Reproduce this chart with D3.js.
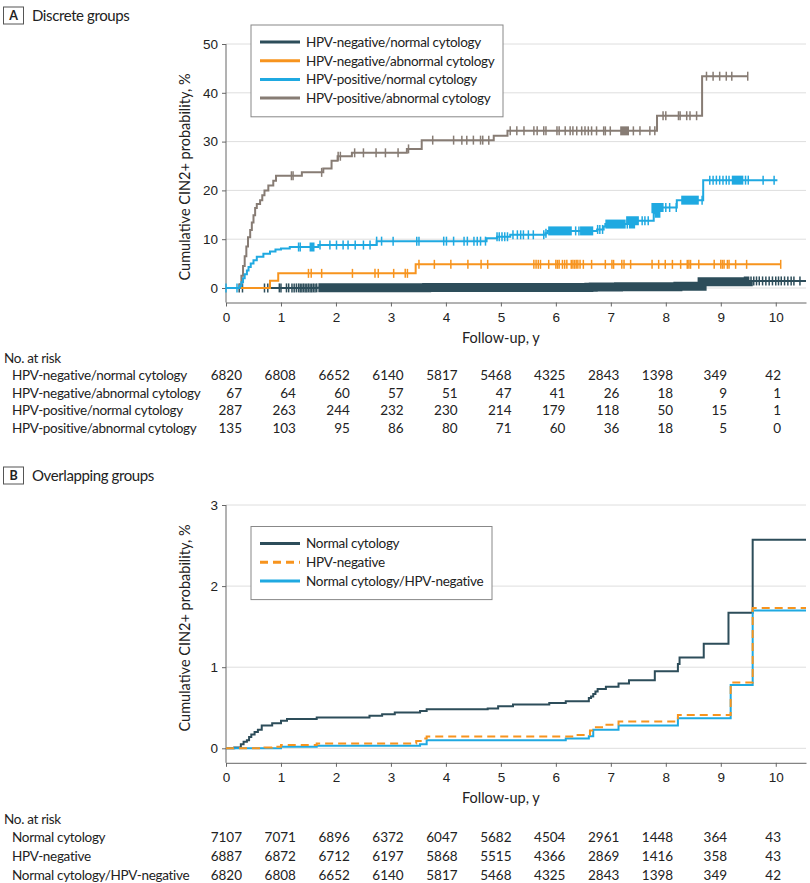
<!DOCTYPE html>
<html>
<head>
<meta charset="utf-8">
<script src="https://cdn.jsdelivr.net/npm/d3@7"></script>
<style>
  body { margin: 0; background: #fff; }
  svg { font-family: Lato, "Liberation Sans", sans-serif; }
</style>
</head>
<body>
<div class="chart"></div>
<script>
// ---------- data ----------
const xTicks = [0, 1, 2, 3, 4, 5, 6, 7, 8, 9, 10];
const yTicksA = [0, 10, 20, 30, 40, 50];
const yTicksB = [0, 1, 2, 3];

const groupsA = ['HPV-negative/normal cytology', 'HPV-negative/abnormal cytology', 'HPV-positive/normal cytology', 'HPV-positive/abnormal cytology'];
const groupsB = ['Normal cytology', 'HPV-negative', 'Normal cytology/HPV-negative'];

// Kaplan-Meier steps [year, cumulative %]
const stepsNegNormal = [[0,0],[0.9,0.02],[1.65,0.03],[3.53,0.05],[3.65,0.1],[6.18,0.12],[6.6,0.15],[6.68,0.23],[7.14,0.28],[8.22,0.37],[8.66,1.3],[9.5,1.45]];
const stepsNegAbn = [[0,0],[0.8,1.5],[0.95,3.0],[3.45,4.85]];
const stepsPosNormal = [[0,0],[0.25,0.4],[0.28,1.2],[0.31,2.0],[0.34,2.8],[0.38,3.6],[0.41,4.3],[0.45,5.0],[0.5,5.7],[0.56,6.4],[0.68,7.0],[0.8,7.5],[0.9,7.9],[1.0,8.1],[1.16,8.4],[1.68,8.8],[2.74,9.6],[4.74,10.2],[4.93,10.5],[5.17,10.9],[5.81,11.2],[5.85,11.7],[6.75,12.0],[6.87,12.6],[6.9,13.1],[7.36,13.8],[7.78,15.3],[7.82,16.5],[8.2,18.0],[8.68,22.1]];
const stepsPosAbn = [[0,0],[0.25,0.7],[0.28,2.5],[0.31,4.5],[0.34,6.5],[0.37,8.5],[0.4,10.4],[0.44,11.9],[0.47,13.4],[0.5,14.9],[0.53,16.4],[0.56,17.2],[0.62,18.0],[0.66,19.0],[0.7,20.0],[0.77,21.0],[0.86,22.0],[0.91,23.0],[1.38,23.7],[1.77,24.5],[1.92,26.1],[2.03,27.0],[2.29,27.7],[3.29,28.5],[3.56,30.3],[4.87,31.2],[5.12,32.2],[7.84,35.3],[8.66,43.4]];
const endsA = [10.55, 10.09, 10.03, 9.49];

// censoring times (single marks) and dense censoring ranges
const censorNegNormal = [0.24,0.3,0.7,0.76,0.97,1.0,1.1,1.14,1.2,1.24,1.28,1.32,1.35,1.38,1.41,1.44,1.47,1.5,1.53,1.56,1.59,1.62,1.65,9.55,9.6,9.65,9.7,9.76,9.82,9.88,9.94,10.0,10.05,10.1,10.16,10.22,10.28,10.33,10.44];
const denseNegNormal = [[1.68, 9.52]];
const censorNegAbn = [1.5,1.55,1.74,2.3,2.71,2.77,3.05,3.26,3.3,3.51,3.79,4.09,4.4,4.64,4.76,5.6,5.64,5.68,5.72,5.87,6.0,6.03,6.06,6.12,6.16,6.2,6.28,6.31,6.34,6.37,6.4,6.44,6.5,6.65,6.9,7.02,7.05,7.2,7.24,7.36,7.75,7.87,7.99,8.12,8.27,8.39,8.42,8.45,8.6,8.88,9.0,9.03,9.06,9.12,9.15,9.27,9.47,10.09];
const denseNegAbn = [];
const censorPosNormal = [0,0.2,1.32,1.35,1.71,1.89,2.01,2.13,2.22,2.35,2.5,2.62,2.74,2.83,3.04,3.47,3.51,3.96,4.01,4.14,4.33,4.39,4.51,4.57,4.63,4.72,4.93,4.97,5.02,5.07,5.12,5.22,5.3,5.36,5.41,5.5,5.59,5.78,5.82,6.36,6.42,6.76,6.8,6.85,7.3,7.57,7.62,7.68,8.0,8.07,8.19,8.66,8.8,8.86,8.92,8.98,9.04,9.1,9.15,9.45,9.5,9.77,9.97];
const densePosNormal = [[1.52,1.61],[5.86,6.29],[6.44,6.68],[6.9,7.27],[7.33,7.51],[7.8,7.96],[8.28,8.6],[9.2,9.41]];
const censorPosAbn = [1.19,1.22,1.74,2.04,2.08,2.34,2.5,2.73,2.9,3.13,3.32,3.76,4.14,4.29,4.38,4.5,4.63,4.67,4.78,5.17,5.29,5.42,5.6,5.66,5.78,5.82,6.02,6.06,6.17,6.26,6.31,6.38,6.47,6.53,6.59,6.65,6.74,6.87,6.9,6.99,7.41,7.53,7.71,7.8,7.95,8.0,8.23,8.26,8.38,8.44,8.56,8.74,8.86,8.98,9.1,9.2,9.49];
const densePosAbn = [[7.17,7.33]];

const stepsNormal = [[0,0],[0.15,0.01],[0.27,0.05],[0.32,0.08],[0.38,0.1],[0.42,0.14],[0.46,0.17],[0.52,0.2],[0.58,0.23],[0.65,0.28],[0.84,0.31],[1.0,0.34],[1.11,0.36],[1.65,0.38],[2.61,0.4],[2.84,0.42],[3.07,0.44],[3.53,0.46],[3.65,0.48],[4.76,0.49],[4.95,0.52],[5.22,0.54],[5.88,0.56],[6.18,0.58],[6.6,0.62],[6.64,0.64],[6.68,0.67],[6.72,0.7],[6.76,0.73],[6.91,0.76],[7.14,0.8],[7.33,0.84],[7.8,0.95],[8.22,1.04],[8.25,1.12],[8.69,1.29],[9.14,1.67],[9.58,2.57]];
const stepsHpvNeg = [[0,0],[0.7,0.01],[0.84,0.02],[1.0,0.04],[1.65,0.06],[3.46,0.09],[3.57,0.12],[3.65,0.145],[6.37,0.165],[6.62,0.22],[6.68,0.26],[6.84,0.29],[7.14,0.33],[8.22,0.41],[9.18,0.81],[9.58,1.73]];
const stepsBoth = [[0,0],[1.0,0.02],[1.65,0.03],[3.53,0.05],[3.65,0.1],[6.18,0.12],[6.6,0.15],[6.68,0.23],[7.14,0.28],[8.22,0.37],[9.18,0.78],[9.58,1.7]];
const endsB = [10.55, 10.55, 10.55];

const riskA = [
  [6820, 6808, 6652, 6140, 5817, 5468, 4325, 2843, 1398, 349, 42],
  [67, 64, 60, 57, 51, 47, 41, 26, 18, 9, 1],
  [287, 263, 244, 232, 230, 214, 179, 118, 50, 15, 1],
  [135, 103, 95, 86, 80, 71, 60, 36, 18, 5, 0]
];
const riskB = [
  [7107, 7071, 6896, 6372, 6047, 5682, 4504, 2961, 1448, 364, 43],
  [6887, 6872, 6712, 6197, 5868, 5515, 4366, 2869, 1416, 358, 43],
  [6820, 6808, 6652, 6140, 5817, 5468, 4325, 2843, 1398, 349, 42]
];

// ---------- styles ----------
const cDark = '#2d4d5a', cOrange = '#f7941e', cBlue = '#1fa9e1', cGrey = '#877c74';
const fontSize = 13.5;
const tight = '-0.3px';

const svg = d3.select('.chart').append('svg')
  .attr('width', 810).attr('height', 883);

const x = d3.scaleLinear().domain([0, 10.55]).range([226, 806]);
const col = d3.scaleLinear().domain([0, 10]).range([242, 781]);

function valueAt(steps, t) {
  const i = d3.bisector(d => d[0]).right(steps, t) - 1;
  return steps[Math.max(i, 0)][1];
}

function drawPanel(p) {
  const y = d3.scaleLinear().domain(p.yDomain).range(p.yRange);
  const g = svg.append('g');

  // header
  g.append('rect').attr('x', 3.5).attr('y', p.headY).attr('width', 20).attr('height', 17)
    .attr('fill', 'none').attr('stroke', '#555');
  g.append('text').attr('x', 13.5).attr('y', p.headY + 13).attr('text-anchor', 'middle')
    .attr('font-weight', 'bold').attr('font-size', 12.5).attr('fill', '#222').text(p.letter);
  g.append('text').attr('x', 32).attr('y', p.headY + 13.5).attr('font-size', 15)
    .attr('letter-spacing', '-0.4px').attr('fill', '#222').text(p.title);

  // grid
  g.append('g').selectAll('line').data(p.yTicks).join('line')
    .attr('x1', x(0)).attr('x2', x(10.55))
    .attr('y1', d => y(d)).attr('y2', d => y(d))
    .attr('stroke', '#dedede').attr('stroke-width', 1);

  // axes
  const axisY = p.yRange[0] + 14.5;
  g.append('g').attr('transform', `translate(0,${axisY})`)
    .call(d3.axisBottom(x).tickValues(xTicks).tickSize(4).tickPadding(5.5).tickSizeOuter(0))
    .call(a => a.selectAll('line, path').attr('stroke', '#666'))
    .call(a => a.selectAll('text').attr('font-size', fontSize).attr('fill', '#222').attr('font-family', null));
  g.append('g').attr('transform', `translate(${x(0)},0)`)
    .call(d3.axisLeft(y).tickValues(p.yTicks).tickFormat(d3.format('d')).tickSize(4).tickPadding(4).tickSizeOuter(0))
    .call(a => a.select('.domain').attr('d', `M0,${p.yRange[1]}V${axisY}`))
    .call(a => a.selectAll('line, path').attr('stroke', '#666'))
    .call(a => a.selectAll('text').attr('font-size', fontSize).attr('fill', '#222').attr('font-family', null));

  g.append('text').attr('transform', `translate(190,${p.yLabelY}) rotate(-90)`)
    .attr('text-anchor', 'middle').attr('font-size', 14.5).attr('fill', '#222')
    .text('Cumulative CIN2+ probability, %');
  g.append('text').attr('x', (x(0) + x(10)) / 2).attr('y', axisY + 40)
    .attr('text-anchor', 'middle').attr('font-size', 14.5).attr('fill', '#222')
    .text('Follow-up, y');

  // curves
  const line = d3.line().x(d => x(d[0])).y(d => y(d[1])).curve(d3.curveStepAfter);
  p.series.forEach(s => {
    const pts = s.steps.concat([[s.end, s.steps[s.steps.length - 1][1]]]);
    g.append('path').attr('d', line(pts)).attr('fill', 'none')
      .attr('stroke', s.color).attr('stroke-width', 2)
      .attr('stroke-dasharray', s.dash || null);
    (s.dense || []).forEach(r => {
      const inner = s.steps.filter(d => d[0] > r[0] && d[0] < r[1]);
      const seg = [[r[0], valueAt(s.steps, r[0])]].concat(inner, [[r[1], valueAt(s.steps, r[1])]]);
      g.append('path').attr('d', line(seg)).attr('fill', 'none')
        .attr('stroke', s.color).attr('stroke-width', 9);
    });
    g.append('g').selectAll('line').data(s.censor || []).join('line')
      .attr('x1', d => x(d)).attr('x2', d => x(d))
      .attr('y1', d => y(valueAt(s.steps, d)) - 4.5)
      .attr('y2', d => y(valueAt(s.steps, d)) + 4.5)
      .attr('stroke', s.color).attr('stroke-width', 1.5);
  });

  // legend
  const lg = g.append('g');
  const legendSeries = p.legendOrder.map(i => p.series[i]);
  lg.append('rect').attr('x', 251).attr('y', p.legY).attr('width', p.legW)
    .attr('height', 17 + legendSeries.length * 18.7)
    .attr('fill', '#fff').attr('stroke', '#888');
  legendSeries.forEach((s, i) => {
    const ly = p.legY + 17 + i * 18.7;
    lg.append('line').attr('x1', 260).attr('x2', 300).attr('y1', ly).attr('y2', ly)
      .attr('stroke', s.color).attr('stroke-width', 3)
      .attr('stroke-dasharray', s.dash ? '8,5' : null);
    lg.append('text').attr('x', 306).attr('y', ly + 4.8).attr('font-size', fontSize)
      .attr('letter-spacing', tight).attr('fill', '#222').text(s.name);
  });

  // number at risk
  const t = g.append('g').attr('font-size', fontSize).attr('fill', '#222');
  t.append('text').attr('x', 4).attr('y', p.riskY + 4.5).attr('letter-spacing', tight).text('No. at risk');
  p.risk.forEach((row, i) => {
    const ry = p.riskY + p.rowStep * (i + 1) + 4.5;
    t.append('text').attr('x', 12).attr('y', ry).attr('letter-spacing', tight).text(p.groups[i]);
    t.append('g').selectAll('text').data(row).join('text')
      .attr('x', (d, j) => col(xTicks[j])).attr('y', ry)
      .attr('text-anchor', 'end').text(d => d);
  });
}

drawPanel({
  letter: 'A', title: 'Discrete groups', headY: 7,
  yDomain: [0, 50], yRange: [288, 44], yTicks: yTicksA, yLabelY: 177,
  legY: 25, legW: 252, legendOrder: [0, 1, 3, 2],
  groups: groupsA, risk: riskA, riskY: 358, rowStep: 17.5,
  series: [
    { name: groupsA[0], steps: stepsNegNormal, end: endsA[0], color: cDark, censor: censorNegNormal, dense: denseNegNormal },
    { name: groupsA[1], steps: stepsNegAbn, end: endsA[1], color: cOrange, censor: censorNegAbn, dense: denseNegAbn },
    { name: groupsA[3], steps: stepsPosAbn, end: endsA[3], color: cGrey, censor: censorPosAbn, dense: densePosAbn },
    { name: groupsA[2], steps: stepsPosNormal, end: endsA[2], color: cBlue, censor: censorPosNormal, dense: densePosNormal }
  ]
});

drawPanel({
  letter: 'B', title: 'Overlapping groups', headY: 467,
  yDomain: [0, 3], yRange: [748.3, 505], yTicks: yTicksB, yLabelY: 628,
  legY: 526.5, legW: 241, legendOrder: [0, 2, 1],
  groups: groupsB, risk: riskB, riskY: 819, rowStep: 18.7,
  series: [
    { name: groupsB[0], steps: stepsNormal, end: endsB[0], color: cDark },
    { name: groupsB[2], steps: stepsBoth, end: endsB[2], color: cBlue },
    { name: groupsB[1], steps: stepsHpvNeg, end: endsB[1], color: cOrange, dash: '8,5' }
  ]
});
</script>
</body>
</html>
